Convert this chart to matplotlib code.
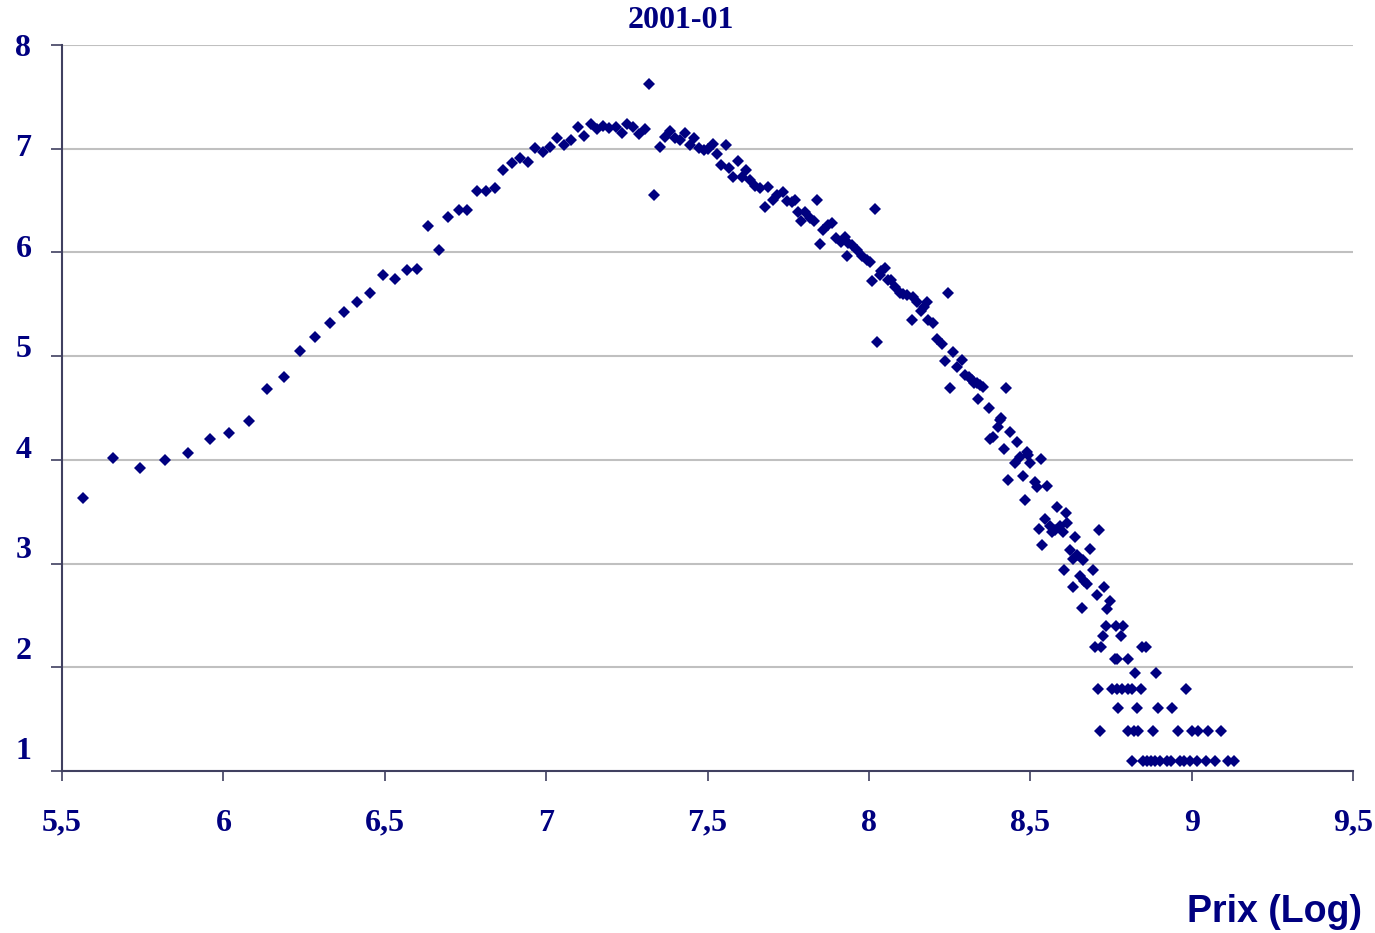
import numpy as np
from matplotlib import pyplot as plt
import matplotlib.transforms as mtransforms

# rising part + top
x_up = [5.566, 5.657, 5.742, 5.819, 5.889, 5.958, 6.018, 6.078, 6.134, 6.188,
        6.236, 6.285, 6.330, 6.374, 6.415, 6.454, 6.494, 6.532, 6.568, 6.599,
        6.635, 6.667, 6.697, 6.729, 6.756, 6.786, 6.815, 6.842, 6.867, 6.894,
        6.919, 6.944, 6.966, 6.989, 7.012, 7.035, 7.056, 7.077, 7.098, 7.118,
        7.138, 7.159, 7.177, 7.196, 7.216, 7.234, 7.252, 7.270, 7.287, 7.305,
        7.320, 7.335]
y_up = [3.63, 4.02, 3.92, 4.00, 4.07, 4.20, 4.26, 4.37, 4.68, 4.80,
        5.05, 5.18, 5.32, 5.43, 5.52, 5.61, 5.78, 5.74, 5.83, 5.84,
        6.25, 6.02, 6.34, 6.41, 6.41, 6.59, 6.59, 6.62, 6.79, 6.86,
        6.91, 6.87, 7.01, 6.97, 7.02, 7.10, 7.04, 7.08, 7.21, 7.12,
        7.24, 7.19, 7.22, 7.20, 7.21, 7.15, 7.24, 7.21, 7.14, 7.19,
        7.62, 6.55]

# falling part
x_down = [7.353, 7.367, 7.384, 7.399, 7.415, 7.431, 7.446, 7.459, 7.475, 7.489,
          7.502, 7.516, 7.528, 7.542, 7.556, 7.567, 7.580, 7.593, 7.607, 7.619,
          7.632, 7.647, 7.663, 7.678, 7.688, 7.704, 7.716, 7.733, 7.745, 7.761,
          7.771, 7.779, 7.790, 7.802, 7.818, 7.830, 7.838, 7.849, 7.859, 7.874,
          7.885, 7.897, 7.913, 7.926, 7.931, 7.936, 7.948, 7.964, 7.978, 7.993,
          8.003, 8.011, 8.019, 8.024, 8.034, 8.038, 8.050, 8.058, 8.070, 8.081,
          8.096, 8.107, 8.117, 8.133, 8.138, 8.148, 8.163, 8.172, 8.179, 8.184,
          8.200, 8.210, 8.226, 8.236, 8.246, 8.251, 8.262, 8.272, 8.288, 8.298,
          8.309, 8.319, 8.327, 8.334, 8.339, 8.344, 8.355, 8.371, 8.375, 8.386,
          8.400, 8.406, 8.410, 8.420, 8.425, 8.432, 8.437, 8.453, 8.458, 8.468,
          8.479, 8.485, 8.489, 8.494, 8.499, 8.515, 8.520, 8.528, 8.533, 8.537,
          8.546, 8.551, 8.560, 8.566, 8.576, 8.582, 8.592, 8.600, 8.605, 8.611,
          8.613, 8.623, 8.632, 8.633, 8.638, 8.645, 8.655, 8.659, 8.662, 8.668,
          8.675, 8.685, 8.694, 8.706, 8.714, 8.730, 8.737, 8.747]
y_down = [7.02, 7.11, 7.17, 7.10, 7.08, 7.15, 7.04, 7.10, 7.01, 6.99,
          7.00, 7.05, 6.95, 6.84, 7.04, 6.81, 6.73, 6.88, 6.73, 6.79,
          6.70, 6.64, 6.62, 6.44, 6.63, 6.51, 6.55, 6.58, 6.50, 6.49,
          6.51, 6.39, 6.30, 6.39, 6.33, 6.30, 6.51, 6.08, 6.22, 6.26,
          6.28, 6.14, 6.10, 6.15, 5.97, 6.09, 6.07, 6.02, 5.97, 5.93,
          5.91, 5.72, 6.42, 5.14, 5.78, 5.82, 5.85, 5.73, 5.73, 5.67,
          5.61, 5.60, 5.59, 5.35, 5.57, 5.52, 5.44, 5.47, 5.52, 5.35,
          5.32, 5.17, 5.12, 4.95, 5.61, 4.69, 5.04, 4.90, 4.96, 4.82,
          4.80, 4.77, 4.74, 4.74, 4.59, 4.72, 4.70, 4.50, 4.20, 4.22,
          4.32, 4.38, 4.40, 4.10, 4.69, 3.81, 4.27, 3.97, 4.17, 4.03,
          3.84, 3.61, 4.08, 4.05, 3.97, 3.79, 3.74, 3.33, 4.01, 3.18,
          3.43, 3.75, 3.36, 3.30, 3.32, 3.55, 3.36, 3.30, 2.94, 3.49,
          3.39, 3.13, 2.77, 3.04, 3.26, 3.08, 2.88, 2.57, 3.03, 2.83,
          2.80, 3.14, 2.94, 2.70, 3.32, 2.77, 2.56, 2.64]

# tail (discrete levels)
x_tail = [8.735, 8.766, 8.787, 8.726, 8.782, 8.700, 8.720, 8.845, 8.859,
          8.763, 8.770, 8.804, 8.825, 8.890,
          8.711, 8.752, 8.768, 8.783, 8.802, 8.814, 8.843, 8.983,
          8.773, 8.830, 8.897, 8.938,
          8.716, 8.804, 8.820, 8.835, 8.879, 8.958, 9.000, 9.020, 9.052, 9.091,
          8.816, 8.848, 8.861, 8.874, 8.887, 8.902, 8.923, 8.936, 8.964, 8.977,
          8.995, 9.016, 9.043, 9.072, 9.112, 9.132]
y_tail = [2.398, 2.398, 2.398, 2.303, 2.303, 2.197, 2.197, 2.197, 2.197,
          2.079, 2.079, 2.079, 1.946, 1.946,
          1.792, 1.792, 1.792, 1.792, 1.792, 1.792, 1.792, 1.792,
          1.609, 1.609, 1.609, 1.609,
          1.386, 1.386, 1.386, 1.386, 1.386, 1.386, 1.386, 1.386, 1.386, 1.386,
          1.099, 1.099, 1.099, 1.099, 1.099, 1.099, 1.099, 1.099, 1.099, 1.099,
          1.099, 1.099, 1.099, 1.099, 1.099, 1.099]

x_ticks = [5.5, 6, 6.5, 7, 7.5, 8, 8.5, 9, 9.5]
x_labels = ['5,5', '6', '6,5', '7', '7,5', '8', '8,5', '9', '9,5']
y_ticks = [1, 2, 3, 4, 5, 6, 7, 8]

navy = '#000080'
axcol = '#404060'

x_all = np.array(x_up + x_down + x_tail)
y_all = np.array(y_up + y_down + y_tail)

fig = plt.figure(figsize=(13.75, 9.33), dpi=100)
ax = fig.add_axes([0.0451, 0.1736, 0.9389, 0.7782])

ax.plot(x_all, y_all, linestyle='none', marker='D', markersize=6,
        color=navy, markeredgewidth=0, zorder=3)

ax.set_xlim(5.5, 9.5)
ax.set_ylim(1, 8)
ax.set_xticks(x_ticks)
ax.set_xticklabels(x_labels)
ax.set_yticks(y_ticks)
ax.yaxis.grid(True, color='#c0c0c0', linewidth=1.5)
ax.set_axisbelow(True)

for s in ['top', 'right']:
    ax.spines[s].set_visible(False)
for s in ['left', 'bottom']:
    ax.spines[s].set_color(axcol)
    ax.spines[s].set_linewidth(1.5)

ax.tick_params(axis='x', direction='out', length=7, width=1.2, color=axcol, pad=20)
ax.tick_params(axis='y', direction='out', length=8, width=1.2, color=axcol, pad=14)
for lab in ax.get_xticklabels() + ax.get_yticklabels():
    lab.set_fontfamily('Liberation Serif')
    lab.set_fontweight('bold')
    lab.set_fontsize(23)
    lab.set_color(navy)

# y labels in the original drift upward a bit, more toward the bottom
for v, lab in zip(y_ticks, ax.get_yticklabels()):
    shift = (8 - v) * 3.3 / 100 * 72
    lab.set_transform(lab.get_transform() +
                      mtransforms.ScaledTranslation(0, shift / 72, fig.dpi_scale_trans))

ax.set_title('2001-01', x=0.479, y=1.0, pad=12, fontfamily='Liberation Serif',
             fontweight='bold', fontsize=23, color=navy)

fig.text(0.9905, 0.0225, 'Prix (Log)', ha='right', va='center',
         fontfamily='Liberation Sans', fontweight='bold', fontsize=27, color=navy)

fig.savefig('out.png', dpi=100, facecolor='white')
